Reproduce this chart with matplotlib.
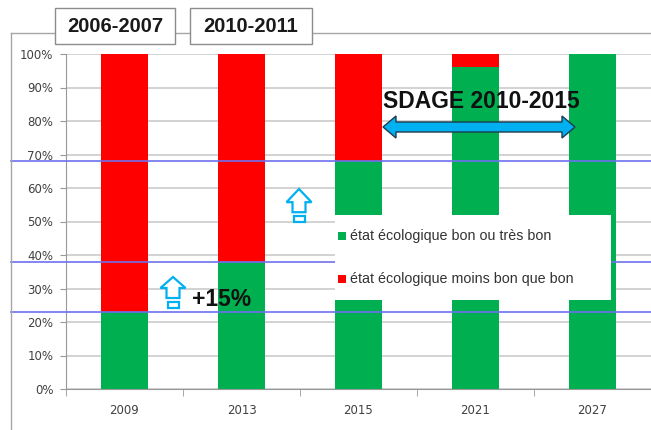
import matplotlib.pyplot as plt
from matplotlib.patches import Rectangle, Polygon
from matplotlib.lines import Line2D
from matplotlib.transforms import Affine2D

# Data
years = ["2009", "2013", "2015", "2021", "2027"]
good = [23, 38, 68, 96, 100]          # état écologique bon ou très bon (%)
bad = [100 - g for g in good]         # état écologique moins bon que bon (%)
yticks = list(range(0, 101, 10))
period_labels = ["2006-2007", "2010-2011"]

GREEN = "#00B050"
RED = "#FF0000"
CYAN = "#00B0F0"
LINE_BLUE = "#6f6ff0"

W, H = 651, 430
fig = plt.figure(figsize=(W / 100, H / 100), dpi=100)
px = Affine2D().scale(1 / 100) + fig.dpi_scale_trans   # pixel coords from bottom-left


def py(y):
    return H - y


ax = fig.add_axes([66 / W, 41 / H, (W - 66) / W, 335 / H])
x = list(range(len(years)))
ax.bar(x, good, width=0.4, color=GREEN, zorder=2)
ax.bar(x, bad, width=0.4, bottom=good, color=RED, zorder=2)

ax.set_xlim(-0.5, len(years) - 0.5)
ax.set_ylim(0, 100)
ax.set_yticks(yticks)
ax.set_yticklabels([f"{v}%" for v in yticks])
ax.set_xticks(x)
ax.set_xticklabels(years)
ax.set_xticks([i - 0.5 for i in range(len(years) + 1)], minor=True)
ax.tick_params(axis="x", which="major", length=0, pad=11, labelsize=8.5, labelcolor="#404040")
ax.tick_params(axis="x", which="minor", length=5, color="#999999")
ax.tick_params(axis="y", length=4, pad=5, color="#999999", labelsize=8.5, labelcolor="#404040")
ax.grid(axis="y", color="#cfcfcf", linewidth=1.3, zorder=1)
ax.set_axisbelow(True)
for s in ["top", "right"]:
    ax.spines[s].set_visible(False)
for s in ["left", "bottom"]:
    ax.spines[s].set_color("#999999")

# legend box covering bars
fig.patches.append(Rectangle((335, py(300)), 276, 85, transform=px, facecolor="white",
                             edgecolor="none", zorder=3))
for yy, col, lab in [(236, GREEN, "état écologique bon ou très bon"),
                     (279, RED, "état écologique moins bon que bon")]:
    fig.patches.append(Rectangle((338, py(yy) - 4), 8, 8, transform=px, facecolor=col,
                                 edgecolor="none", zorder=3.1))
    fig.text(350 / W, py(yy) / H, lab, fontsize=10.3, color="#333333", va="center",
             family="Liberation Sans", zorder=3.2)

# blue reference lines at the good-state levels
for g in good[:3]:
    ax.axhline(g, xmin=-(66 - 11) / (W - 66), xmax=1, color=LINE_BLUE, linewidth=1.2,
               clip_on=False, zorder=6)

# outer frame and period boxes
fig.lines.append(Line2D([11, 11], [py(33), 0], transform=px, color="#a6a6a6", lw=1))
fig.lines.append(Line2D([11, W], [py(33), py(33)], transform=px, color="#a6a6a6", lw=1))
for (x0, x1), lab in zip([(55, 175), (190, 312)], period_labels):
    fig.patches.append(Rectangle((x0, py(44)), x1 - x0, 36, transform=px, facecolor="white",
                                 edgecolor="#8c8c8c", lw=1, zorder=4))
    fig.text((x0 + x1) / 2 / W, py(26) / H, lab, fontsize=14.5, fontweight="bold",
             family="Liberation Sans", color="#1a1a1a", ha="center", va="center", zorder=5)


# hollow up arrows
def up_arrow(cx, tip, scale=1.0):
    hw, hh, sw, sh = 12.5, 11 * scale, 6.5, 10
    pts = [(cx, tip), (cx + hw, tip + hh), (cx + sw, tip + hh), (cx + sw, tip + hh + sh),
           (cx - sw, tip + hh + sh), (cx - sw, tip + hh), (cx - hw, tip + hh)]
    fig.patches.append(Polygon([(a, py(b)) for a, b in pts], closed=True, transform=px,
                               facecolor="white", edgecolor=CYAN, lw=1.6, zorder=5))
    by = tip + hh + sh + 4
    fig.patches.append(Rectangle((cx - 5.5, py(by + 6)), 11, 6, transform=px,
                                 facecolor="white", edgecolor=CYAN, lw=1.6, zorder=5))


up_arrow(173, 277)
up_arrow(299, 189, 1.2)

fig.text(192 / W, py(300) / H, "+15%", fontsize=16.5, fontweight="bold",
         family="Liberation Sans", color="#111111", va="center", zorder=6)

# SDAGE double arrow
xl, xr, yc = 383, 575, 127
sh, hh, hl = 5, 11, 13
pts = [(xl, yc), (xl + hl, yc - hh), (xl + hl, yc - sh), (xr - hl, yc - sh), (xr - hl, yc - hh),
       (xr, yc), (xr - hl, yc + hh), (xr - hl, yc + sh), (xl + hl, yc + sh), (xl + hl, yc + hh)]
fig.patches.append(Polygon([(a, py(b)) for a, b in pts], closed=True, transform=px,
                           facecolor=CYAN, edgecolor="#1f3b4d", lw=1, zorder=6))
fig.text(481 / W, py(101) / H, "SDAGE 2010-2015", fontsize=16.5, fontweight="bold",
         family="Liberation Sans", color="#111111", ha="center", va="center", zorder=6)

fig.savefig("out.png", dpi=100)
